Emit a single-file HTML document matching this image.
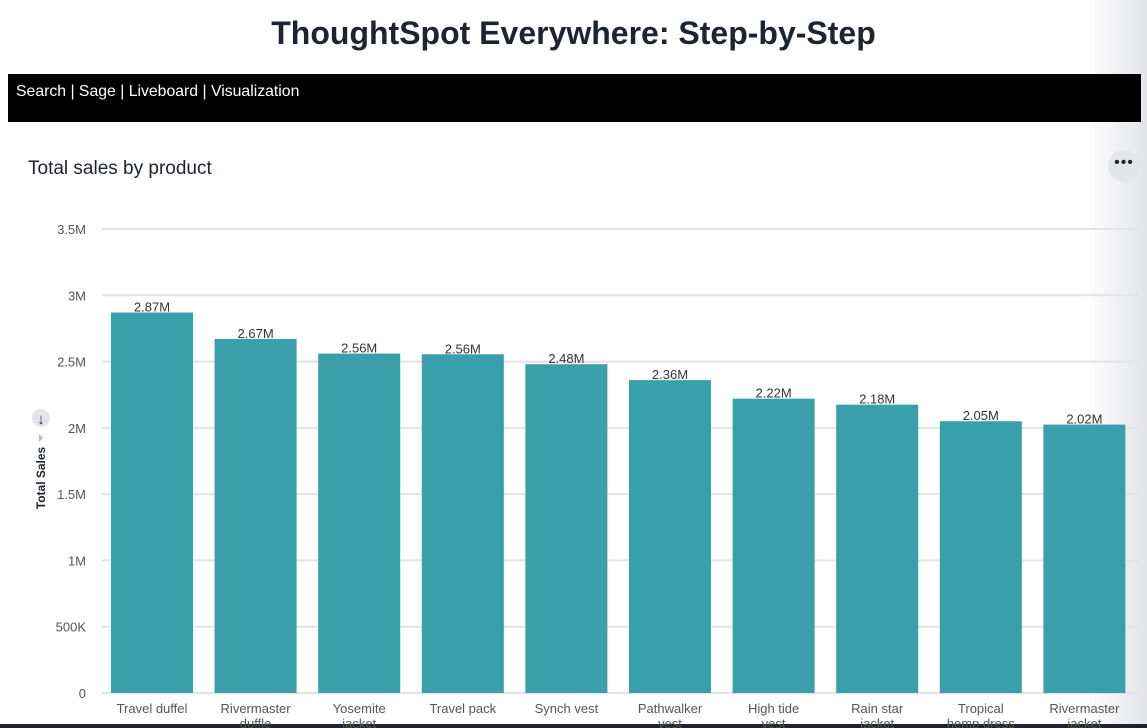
<!DOCTYPE html>
<html><head><meta charset="utf-8"><style>
body{margin:0;width:1147px;height:728px;overflow:hidden;background:#fff;font-family:"Liberation Sans",sans-serif;position:relative}
#title{position:absolute;top:15px;left:0;width:1147px;text-align:center;font-size:32px;font-weight:bold;color:#1d232f}
#nav{position:absolute;left:8px;top:74px;width:1133px;height:48px;background:#000;color:#fff;font-size:15.8px}
#nav span{position:absolute;left:8px;top:9px}
#card-title{position:absolute;left:28px;top:158px;font-size:19px;color:#1d232f}
#more{position:absolute;left:1108px;top:150px;width:32px;height:32px;border-radius:50%;background:#e4e5e9;text-align:center;line-height:26px;font-size:16px;color:#1d232f;letter-spacing:1px}
#shade{position:absolute;left:1085px;top:0;width:62px;height:728px;background:linear-gradient(to right,rgba(230,231,235,0),rgba(225,226,230,0.9))}
#bottom{position:absolute;left:0;top:724px;width:1147px;height:4px;background:#1d232f}
svg{position:absolute;left:0;top:0}
</style></head><body>
<div id="shade"></div>
<div id="bottom"></div>
<div id="title">ThoughtSpot Everywhere: Step-by-Step</div>
<div id="nav"><span>Search | Sage | Liveboard | Visualization</span></div>
<div id="card-title">Total sales by product</div>
<div id="more">•••</div>
<svg id="chart" width="1147" height="728"></svg>
<script>
const categories=[["Travel duffel"],["Rivermaster","duffle"],["Yosemite","jacket"],["Travel pack"],["Synch vest"],["Pathwalker","vest"],["High tide","vest"],["Rain star","jacket"],["Tropical","hemp dress"],["Rivermaster","jacket"]];
const values=[2.87,2.67,2.56,2.555,2.48,2.36,2.22,2.175,2.05,2.025];
const valueLabels=["2.87M","2.67M","2.56M","2.56M","2.48M","2.36M","2.22M","2.18M","2.05M","2.02M"];
const ticks=[0,0.5,1,1.5,2,2.5,3,3.5];
const tickLabels=["0","500K","1M","1.5M","2M","2.5M","3M","3.5M"];
const svg=document.getElementById('chart');const NS="http://www.w3.org/2000/svg";
const y0=693,y1=229,x0=102,x1=1138;
const y=v=>y0-(v/3.5)*(y0-y1);
const pitch=(x1-x0)/categories.length;const bw=82;
const bx=i=>x0+9+i*pitch;
function mk(t,a,txt){const e=document.createElementNS(NS,t);for(const k in a)e.setAttribute(k,a[k]);if(txt!=null)e.textContent=txt;svg.appendChild(e);return e;}
ticks.forEach((t,i)=>{
 const g=mk('line',{x1:x0,x2:x1,y1:y(t),y2:y(t),stroke:'#e2e3e6','stroke-width':2});
 
 
 const l=mk('text',{x:86,y:y(t)+5,'text-anchor':'end','font-size':13,fill:'#555'},tickLabels[i]);
 
 
});
values.forEach((v,i)=>{
 const r=mk('rect',{x:bx(i),y:y(v),width:bw,height:y0-y(v),fill:'#389fab'});
 
 
 const t=mk('text',{x:bx(i)+bw/2,y:y(v)-1,'text-anchor':'middle','font-size':13,fill:'#333'},valueLabels[i]);
 
 
 categories[i].forEach((line,j)=>{
  const c=mk('text',{x:bx(i)+bw/2,y:713+j*15,'text-anchor':'middle','font-size':13,fill:'#555'},line);
  
  
 });
});
const yt=mk('text',{x:45,y:478,'text-anchor':'middle','font-size':12,'font-weight':'bold',fill:'#1d232f',transform:'rotate(-90 45 478)'},'Total Sales');


const sc=mk('circle',{cx:41,cy:418,r:9,fill:'#e4e5e9'});


const ar=mk('text',{x:41,y:424,'text-anchor':'middle','font-size':15,'font-weight':'bold',fill:'#1d232f'},'↓');


const tr=mk('path',{d:'M39 434 L43 438 L39 442 Z',fill:'#bbb'});


</script>
</body></html>
